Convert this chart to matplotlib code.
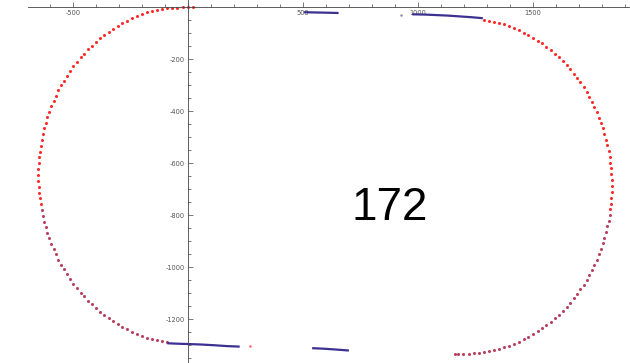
import numpy as np
import matplotlib
matplotlib.use("Agg")
import matplotlib.pyplot as plt
from matplotlib.ticker import FixedLocator

plt.rcParams["axes.unicode_minus"] = False

# track points, west turn (top -> bottom)
left_arc_x = [22, 0, -23, -46, -68, -90, -113, -135, -157, -179, -201, -222, -244,
              -265, -285, -305, -325, -345, -363, -382, -400, -418, -435, -452,
              -467, -483, -498, -512, -526, -539, -551, -563, -574, -584, -594,
              -603, -611, -618, -625, -631, -636, -640, -644, -647, -649, -650,
              -650, -650, -649, -647, -644, -640, -636, -631, -625, -618, -611,
              -603, -594, -584, -574, -563, -551, -539, -526, -512, -498, -483,
              -467, -452, -435, -418, -400, -382, -363, -345, -325, -305, -285,
              -265, -244, -222, -201, -179, -157, -135, -113, -90]
left_arc_y = [0, 0, -1, -2, -3, -5, -7, -10, -15, -21, -28, -35, -43, -52, -62,
              -72, -83, -95, -107, -120, -134, -148, -163, -179, -194, -211, -228,
              -246, -264, -283, -301, -321, -341, -361, -381, -402, -424, -445,
              -467, -489, -511, -533, -556, -578, -600, -623, -646, -669, -692,
              -714, -736, -759, -781, -803, -825, -847, -868, -890, -911, -931,
              -951, -971, -991, -1009, -1028, -1046, -1064, -1081, -1098, -1113,
              -1129, -1144, -1158, -1172, -1185, -1197, -1209, -1220, -1230,
              -1240, -1249, -1257, -1264, -1271, -1277, -1282, -1286, -1290]

# track points, east turn (top -> bottom)
right_arc_x = [1287, 1309, 1331, 1353, 1375, 1397, 1418, 1439, 1460, 1480, 1500,
               1520, 1539, 1558, 1577, 1595, 1612, 1629, 1646, 1662, 1677, 1692,
               1706, 1720, 1733, 1745, 1756, 1767, 1778, 1787, 1796, 1804, 1811,
               1818, 1824, 1829, 1833, 1837, 1839, 1841, 1843, 1843, 1843, 1841,
               1839, 1837, 1833, 1829, 1824, 1818, 1811, 1804, 1796, 1787, 1778,
               1767, 1756, 1745, 1733, 1720, 1706, 1692, 1677, 1662, 1646, 1629,
               1612, 1595, 1577, 1558, 1539, 1520, 1500, 1480, 1460, 1439, 1418,
               1397, 1375, 1353, 1331, 1309, 1287, 1265, 1242, 1220, 1197, 1174,
               1160]
right_arc_y = [-48, -52, -56, -61, -67, -74, -81, -89, -98, -107, -118, -129,
               -140, -152, -165, -179, -193, -208, -223, -239, -256, -273, -290,
               -308, -327, -346, -365, -385, -405, -425, -446, -467, -488, -510,
               -532, -554, -576, -598, -620, -643, -665, -688, -711, -733, -756,
               -778, -800, -822, -844, -866, -888, -909, -930, -951, -971, -991,
               -1011, -1030, -1049, -1068, -1086, -1103, -1120, -1137, -1153,
               -1168, -1183, -1197, -1211, -1224, -1236, -1247, -1258, -1269,
               -1278, -1287, -1295, -1302, -1309, -1315, -1320, -1324, -1328,
               -1330, -1332, -1334, -1334, -1334, -1334]

# straight sections
top_mid_x = [505, 560, 610, 655]
top_mid_y = [-20, -21, -22, -23]
top_right_x = [975, 1030, 1080, 1130, 1180, 1230, 1282]
top_right_y = [-28, -29, -31, -33, -36, -39, -43]
bottom_left_x = [-90, -40, 0, 60, 120, 170, 225]
bottom_left_y = [-1293, -1295, -1296, -1298, -1301, -1304, -1306]
bottom_mid_x = [540, 590, 640, 700]
bottom_mid_y = [-1312, -1314, -1317, -1321]
stray_x = [926, 270]
stray_y = [-31, -1304]

lap_label = "172"

x_major = [-500, 500, 1000, 1500]
y_major = [-200, -400, -600, -800, -1000, -1200]

fig = plt.figure(figsize=(6.3, 3.63), dpi=100)
ax = fig.add_axes([0, 0, 1, 1])
ax.set_xlim(-817, 1922)
ax.set_ylim(-1369, 27)

red = "#ff2a2a"
rose = "#b8405e"
blue = "#3c3090"

for xs, ys in [(left_arc_x, left_arc_y), (right_arc_x, right_arc_y)]:
    xs = np.array(xs)
    ys = np.array(ys)
    upper = ys > -780
    ax.plot(xs[upper], ys[upper], "o", color=red, ms=2.2, mew=0)
    ax.plot(xs[~upper], ys[~upper], "o", color=rose, ms=2.2, mew=0)

for xs, ys in [(top_mid_x, top_mid_y), (top_right_x, top_right_y),
               (bottom_left_x, bottom_left_y), (bottom_mid_x, bottom_mid_y)]:
    ax.plot(xs, ys, "-", color=blue, lw=1.6, solid_capstyle="butt")

ax.plot(stray_x[:1], stray_y[:1], "o", color="#9090a0", ms=1.8, mew=0)
ax.plot(stray_x[1:], stray_y[1:], "o", color="#ff6060", ms=1.8, mew=0)

# axes crossing at the origin
for side in ["top", "right"]:
    ax.spines[side].set_visible(False)
ax.spines["bottom"].set_position(("data", 0))
ax.spines["left"].set_position(("data", 0))
ax.spines["bottom"].set_bounds(-696, 1922)
for side in ["bottom", "left"]:
    ax.spines[side].set_color("#444444")
    ax.spines[side].set_linewidth(0.6)

ax.xaxis.set_major_locator(FixedLocator(x_major))
ax.xaxis.set_minor_locator(FixedLocator(range(-600, 1901, 100)))
ax.yaxis.set_major_locator(FixedLocator(y_major))
ax.yaxis.set_minor_locator(FixedLocator(range(-1350, 0, 50)))
ax.set_xticklabels([str(v) for v in x_major])
ax.set_yticklabels([str(v) for v in y_major])

ax.tick_params(which="both", direction="in", colors="#444444", width=0.5,
               labelsize=4.8, labelcolor="#555555", pad=2)
ax.tick_params(which="major", length=3.5)
ax.tick_params(which="minor", length=2)

fig.text(390 / 630, 1 - 208 / 363, lap_label, fontsize=33,
         family="Liberation Sans", ha="center", va="center", color="black")

fig.savefig("out.png", dpi=100)
